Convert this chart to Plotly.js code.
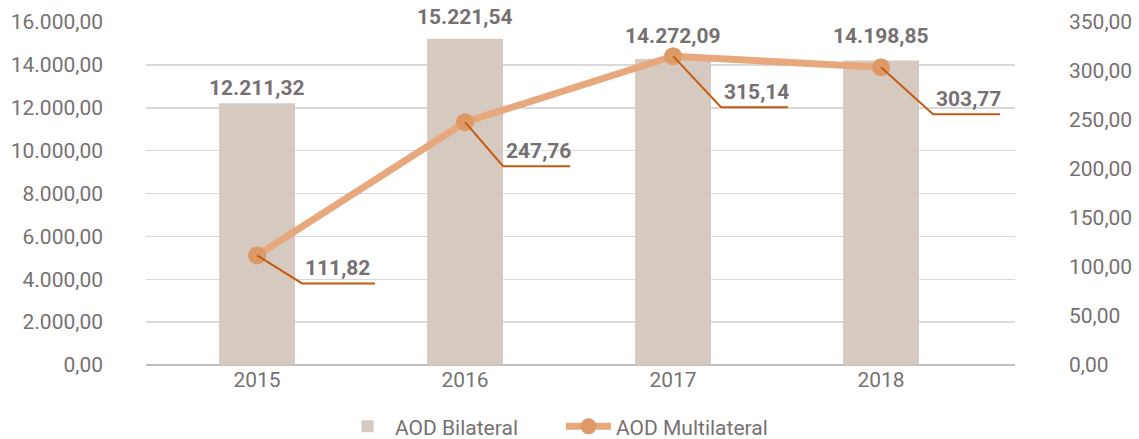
<!DOCTYPE html>
<html><head><meta charset="utf-8">
<script src="https://cdn.plot.ly/plotly-3.0.1.min.js"></script>
<style>html,body{margin:0;padding:0;background:#fff}#c{width:1139px;height:439px}</style>
</head><body><div id="c"></div>
<script>
const years = ['2015', '2016', '2017', '2018'];
const bilateral = [12211.32, 15221.54, 14272.09, 14198.85];
const multilateral = [111.82, 247.76, 315.14, 303.77];
const seriesNames = ['AOD Bilateral', 'AOD Multilateral'];

// label styling (pixel offsets)
const barLabelLift = [1, 8, 9, 11];
const leaderDx = [45, 38, 48, 52];
const leaderDy = [28, 44, 51, 47];
const leaderLen = [73, 67, 67, 67];

const xs = years.map((_, i) => i);
const gray = '#767171';
const fontFam = 'Roboto, "Open Sans", sans-serif';

function fmt(v) {
  const parts = v.toFixed(2).split('.');
  parts[0] = parts[0].replace(/\B(?=(\d{3})+(?!\d))/g, '.');
  return parts[0] + ',' + parts[1];
}

const traces = [
  {
    type: 'bar', x: xs, y: bilateral, name: seriesNames[0],
    width: 0.365, marker: {color: '#D6CAC0'},
    hoverinfo: 'skip', legend: 'legend'
  },
  {
    type: 'scatter', mode: 'lines+markers', x: xs, y: multilateral, yaxis: 'y2',
    name: seriesNames[1],
    line: {color: '#E6A87C', width: 7},
    marker: {color: '#DE9A66', size: 18},
    cliponaxis: false, hoverinfo: 'skip', legend: 'legend2'
  }
];

const shapes = multilateral.map((v, i) => ({
  type: 'path', xref: 'x', yref: 'y2',
  xsizemode: 'pixel', ysizemode: 'pixel',
  xanchor: xs[i], yanchor: v,
  path: `M0,0 L${leaderDx[i]},${-leaderDy[i]} L${leaderDx[i] + leaderLen[i]},${-leaderDy[i]}`,
  line: {color: '#C55A11', width: 2}
}));

const annotations = multilateral.map((v, i) => ({
  x: xs[i], y: v, xref: 'x', yref: 'y2', showarrow: false,
  xanchor: 'left', yanchor: 'bottom',
  xshift: leaderDx[i] + 1, yshift: -leaderDy[i] + 1,
  text: '<b>' + fmt(v) + '</b>',
  font: {family: fontFam, size: 21, color: gray}
})).concat(bilateral.map((v, i) => ({
  x: xs[i], y: v, xref: 'x', yref: 'y', showarrow: false,
  xanchor: 'center', yanchor: 'bottom', yshift: barLabelLift[i],
  text: '<b>' + fmt(v) + '</b>',
  font: {family: fontFam, size: 21, color: gray}
})));

const legendFont = {family: fontFam, size: 21, color: gray};
const layout = {
  width: 1139, height: 439,
  margin: {l: 146, r: 124, t: 22, b: 74, autoexpand: false},
  paper_bgcolor: '#fff', plot_bgcolor: '#fff',
  separators: ',.',
  showlegend: true,
  legend: {orientation: 'h', x: (340 - 146) / 869, xanchor: 'left', y: -0.12, yanchor: 'top',
    font: legendFont, itemwidth: 45},
  legend2: {orientation: 'h', x: (561 - 146) / 869, xanchor: 'left', y: -0.12, yanchor: 'top',
    font: legendFont, itemwidth: 45},
  xaxis: {
    range: [-0.534, 3.644], tickvals: xs, ticktext: years,
    showgrid: false, zeroline: false, showline: false, ticks: '',
    tickfont: {family: fontFam, size: 21, color: gray}, fixedrange: true
  },
  yaxis: {
    range: [0, 16000], dtick: 2000, tickformat: ',.2f',
    gridcolor: '#D9D9D9', gridwidth: 1.5,
    zeroline: true, zerolinecolor: '#BFBFBF', zerolinewidth: 2,
    tickfont: {family: fontFam, size: 21, color: gray},
    ticklabelstandoff: 42, fixedrange: true
  },
  yaxis2: {
    overlaying: 'y', side: 'right', range: [0, 350], dtick: 50, tickformat: ',.2f',
    showgrid: false, zeroline: false,
    tickfont: {family: fontFam, size: 21, color: gray},
    ticklabelstandoff: 53, fixedrange: true
  },
  shapes: shapes,
  annotations: annotations
};

Plotly.newPlot('c', traces, layout, {displayModeBar: false, staticPlot: true});
</script></body></html>
